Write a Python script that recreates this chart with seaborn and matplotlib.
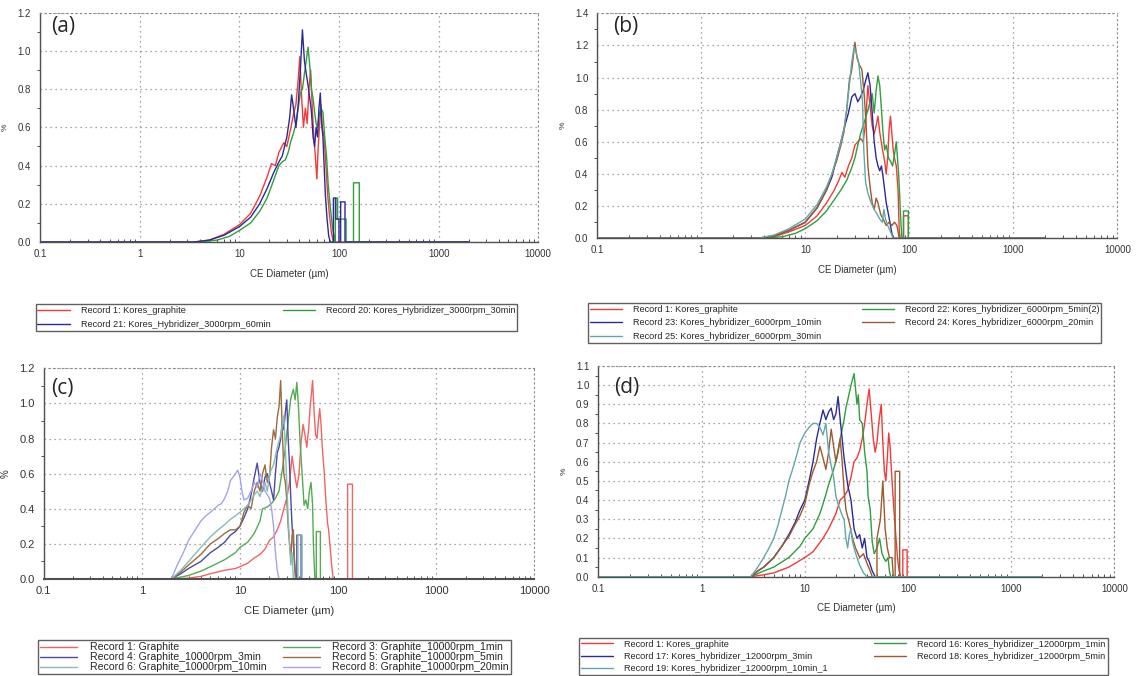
import matplotlib
matplotlib.use("Agg")
import matplotlib.pyplot as plt
from matplotlib.ticker import FixedLocator, MultipleLocator, LogLocator, NullFormatter, FormatStrFormatter
import seaborn as sns
import pandas as pd

# x range of the instrument baseline (zero line)
BASE_LO, BASE_HI = 0.1, 2000

# ---- panel (a) : 3000 rpm ----
a_graphite = [(3.5, 0), (5, 0.01), (7, 0.04), (10, 0.09), (13, 0.15), (16, 0.24), (19, 0.34), (21, 0.41),
              (23, 0.4), (25, 0.47), (28, 0.52), (30, 0.5), (33, 0.6), (35, 0.67), (37, 0.72), (39, 0.85),
              (40.5, 0.97), (42, 0.78), (44, 0.6), (46, 0.7), (48, 0.62), (50, 0.8), (52, 0.9), (54, 0.7),
              (56, 0.55), (58, 0.45), (60, 0.33), (62, 0.5), (64, 0.62), (66, 0.72), (68, 0.6), (71, 0.55),
              (74, 0.4), (77, 0.25), (80, 0.15), (84, 0.05), (88, 0)]
a_30min = [(4, 0), (6, 0.01), (8, 0.03), (10, 0.06), (13, 0.1), (16, 0.16), (19, 0.23), (22, 0.32), (25, 0.4),
           (27, 0.42), (29, 0.43), (31, 0.47), (33, 0.53), (35, 0.57), (37, 0.62), (39, 0.7), (41, 0.78),
           (43, 0.8), (45, 0.88), (47, 0.95), (49, 1.02), (51, 0.92), (53, 0.8), (55, 0.75), (57, 0.68),
           (59, 0.62), (61, 0.6), (63, 0.66), (66, 0.7), (69, 0.68), (72, 0.55), (75, 0.45), (78, 0.3),
           (82, 0.18), (86, 0.08), (90, 0.02), (92, 0), (92, 0.23), (97, 0.23), (97, 0.12), (118, 0.12),
           (118, 0), (140, 0), (140, 0.31), (160, 0.31), (160, 0)]
a_60min = [(3.5, 0), (5, 0.01), (7, 0.035), (10, 0.08), (13, 0.13), (16, 0.2), (19, 0.28), (22, 0.36),
           (25, 0.42), (27, 0.45), (30, 0.55), (32, 0.65), (33.5, 0.77), (35, 0.7), (37, 0.6), (39, 0.72),
           (41, 0.9), (43, 1.11), (45, 0.95), (47, 0.88), (49, 0.82), (51, 0.75), (53, 0.68), (55, 0.55),
           (57, 0.5), (59, 0.6), (61, 0.55), (63, 0.7), (65, 0.78), (67, 0.62), (69, 0.55), (71, 0.4),
           (73, 0.25), (76, 0.12), (79, 0.03), (82, 0), (88, 0), (88, 0.23), (93, 0.23), (93, 0.12),
           (100, 0.12), (100, 0), (104, 0), (104, 0.21), (115, 0.21), (115, 0)]

# ---- panel (b) : 6000 rpm ----
b_graphite = [(3.5, 0), (5, 0.01), (7, 0.04), (10, 0.08), (13, 0.14), (16, 0.22), (19, 0.3), (21, 0.36),
              (22.5, 0.41), (24, 0.38), (26, 0.45), (28, 0.5), (30, 0.58), (32, 0.6), (34, 0.62), (36, 0.6),
              (38, 0.72), (40, 0.95), (42, 0.82), (44, 0.7), (46, 0.65), (48, 0.7), (50, 0.76), (52, 0.66),
              (55, 0.56), (58, 0.48), (60, 0.4), (62, 0.5), (64, 0.68), (66, 0.76), (68, 0.65), (70, 0.55),
              (72, 0.5), (75, 0.45), (78, 0.3), (80, 0.05), (82, 0), (88, 0), (88, 0.14), (98, 0.14), (98, 0)]
b_5min = [(4, 0), (6, 0.01), (8, 0.03), (10, 0.06), (13, 0.11), (16, 0.17), (19, 0.24), (22, 0.3), (25, 0.36),
          (28, 0.44), (30, 0.5), (32, 0.58), (34, 0.65), (36, 0.7), (38, 0.75), (40, 0.8), (42, 0.85),
          (44, 0.9), (46, 0.78), (48, 0.92), (50, 1.01), (52, 0.95), (54, 0.8), (56, 0.65), (58, 0.55),
          (60, 0.58), (63, 0.5), (66, 0.48), (69, 0.45), (72, 0.52), (75, 0.6), (77, 0.5), (79, 0.4),
          (81, 0.25), (83, 0.1), (85, 0), (88, 0), (88, 0.17), (98, 0.17), (98, 0)]
b_10min = [(3.5, 0), (5, 0.015), (7, 0.05), (10, 0.1), (13, 0.19), (16, 0.3), (18, 0.38), (20, 0.5), (22, 0.6),
           (24, 0.7), (26, 0.78), (28, 0.88), (30, 0.9), (32, 0.85), (34, 0.88), (36, 0.92), (38, 0.98),
           (40, 1.03), (42, 0.95), (44, 0.78), (46, 0.6), (48, 0.5), (50, 0.45), (52, 0.42), (54, 0.45),
           (56, 0.38), (58, 0.3), (60, 0.22), (63, 0.15), (66, 0.08), (68, 0.03), (70, 0)]
b_20min = [(3.5, 0), (5, 0.015), (7, 0.05), (10, 0.1), (13, 0.19), (16, 0.3), (18, 0.4), (20, 0.48), (22, 0.58),
           (23.5, 0.66), (25, 0.8), (26.5, 0.98), (28, 1.05), (30, 1.22), (31.5, 1.12), (33, 1.08), (35, 1.05),
           (37, 0.88), (38.5, 0.7), (40, 0.45), (42, 0.32), (44, 0.22), (46, 0.18), (48, 0.25), (50, 0.22),
           (53, 0.15), (56, 0.12), (60, 0.08), (64, 0.1), (68, 0.08), (72, 0.1), (76, 0.08), (79, 0.02), (80, 0)]
b_30min = [(3.5, 0), (5, 0.02), (7, 0.06), (10, 0.12), (13, 0.21), (16, 0.32), (18, 0.4), (20, 0.5), (22, 0.6),
           (23.5, 0.68), (25, 0.8), (26.5, 0.95), (28, 1.1), (29.5, 1.19), (31, 1.15), (32.5, 1.1), (34, 0.98),
           (35.5, 0.85), (36.5, 0.55), (38, 0.35), (40, 0.28), (43, 0.22), (46, 0.18), (49, 0.15), (52, 0.12),
           (55, 0.1), (57, 0.18), (59, 0.12), (62, 0.08), (65, 0.05), (68, 0.02), (70, 0)]

# ---- panel (c) : 10000 rpm ----
c_graphite = [(2, 0), (3, 0.005), (4, 0.015), (5, 0.03), (7, 0.05), (9, 0.06), (10, 0.07), (12, 0.09),
              (14, 0.12), (16, 0.14), (18, 0.17), (20, 0.22), (22, 0.24), (24, 0.28), (26, 0.33), (28, 0.4),
              (30, 0.46), (32, 0.55), (34, 0.7), (36, 0.6), (38, 0.52), (40, 0.6), (42, 0.78), (44, 0.88),
              (46, 0.82), (48, 0.75), (50, 0.85), (52, 0.98), (55, 1.13), (57, 0.95), (59, 0.82), (61, 0.8),
              (63, 0.9), (65, 0.97), (67, 0.88), (69, 0.75), (72, 0.62), (75, 0.45), (78, 0.32), (80, 0.28),
              (83, 0.18), (86, 0.08), (89, 0), (125, 0), (125, 0.54), (140, 0.54), (140, 0)]
c_1min = [(2, 0), (3, 0.02), (4, 0.045), (5, 0.07), (7, 0.11), (9, 0.15), (10, 0.18), (12, 0.21), (14, 0.26),
          (16, 0.33), (17, 0.4), (19, 0.41), (21, 0.43), (23, 0.46), (25, 0.5), (27, 0.62), (29, 0.75),
          (31, 0.9), (33, 1.03), (35, 1.08), (36.5, 1.02), (38, 1.12), (39.5, 0.98), (41, 0.78), (43, 0.6),
          (45, 0.42), (47, 0.45), (49, 0.4), (51, 0.5), (53, 0.55), (55, 0.42), (56, 0.2), (57, 0.1), (58, 0),
          (60, 0), (60, 0.27), (66, 0.27), (66, 0)]
c_3min = [(2, 0), (2.5, 0.03), (3, 0.06), (4, 0.1), (5, 0.15), (6, 0.18), (7, 0.21), (8, 0.25), (9, 0.27),
          (10, 0.3), (11, 0.35), (12, 0.4), (13, 0.48), (14, 0.58), (15, 0.66), (16, 0.55), (17, 0.5),
          (18, 0.58), (19, 0.6), (20, 0.55), (21, 0.5), (22, 0.45), (23, 0.6), (24, 0.72), (25, 0.75),
          (26, 0.8), (27, 0.9), (28, 0.85), (29, 0.95), (30, 1.02), (31, 0.8), (32, 0.65), (33, 0.45),
          (34, 0.3), (35, 0.2), (36, 0.1), (37, 0), (38, 0), (38, 0.25), (42, 0.25), (42, 0)]
c_5min = [(2, 0), (2.5, 0.04), (3, 0.08), (4, 0.14), (5, 0.2), (6, 0.23), (7, 0.26), (8, 0.28), (9, 0.28),
          (10, 0.3), (11, 0.38), (12, 0.42), (13, 0.4), (14, 0.5), (15, 0.55), (16, 0.5), (17, 0.6),
          (18, 0.65), (19, 0.55), (20, 0.58), (21, 0.75), (22, 0.85), (23, 0.8), (24, 0.92), (25, 0.98),
          (26, 1.13), (27, 0.85), (28, 0.6), (29, 0.55), (30, 0.45), (31, 0.3), (32, 0.2), (33, 0.12),
          (34, 0.25), (35, 0.28), (36, 0.08), (37, 0)]
c_10min = [(2, 0), (2.5, 0.05), (3, 0.1), (4, 0.18), (5, 0.24), (6, 0.28), (7, 0.31), (8, 0.34), (9, 0.36),
           (10, 0.38), (11, 0.4), (12, 0.42), (13, 0.45), (14, 0.48), (15, 0.5), (16, 0.47), (17, 0.52),
           (18, 0.55), (19, 0.5), (20, 0.6), (22, 0.65), (24, 0.75), (26, 0.82), (28, 0.93), (29, 0.75),
           (30, 0.55), (31, 0.35), (32, 0.2), (33, 0.08), (34, 0.15), (35, 0), (39, 0), (39, 0.25), (43, 0.25),
           (43, 0)]
c_20min = [(2, 0), (2.3, 0.08), (2.6, 0.14), (3, 0.22), (3.5, 0.28), (4, 0.33), (4.5, 0.36), (5, 0.38),
           (5.5, 0.4), (6, 0.42), (6.5, 0.43), (7, 0.46), (7.5, 0.5), (8, 0.56), (8.5, 0.58), (9, 0.6),
           (9.5, 0.62), (10, 0.58), (10.5, 0.5), (11, 0.45), (12, 0.46), (13, 0.5), (14, 0.55), (15, 0.52),
           (16, 0.6), (17, 0.56), (18, 0.5), (19, 0.48), (20, 0.46), (21, 0.4), (22, 0.3), (23, 0.15),
           (24, 0.05), (25, 0)]

# ---- panel (d) : 12000 rpm ----
d_graphite = [(3, 0), (4, 0.01), (5, 0.02), (7, 0.05), (10, 0.1), (12, 0.13), (15, 0.2), (17, 0.25), (20, 0.33),
              (22, 0.4), (24, 0.42), (26, 0.45), (28, 0.52), (30, 0.6), (32, 0.62), (34, 0.66), (36, 0.72),
              (38, 0.8), (40, 0.9), (42, 0.98), (44, 0.85), (46, 0.72), (48, 0.65), (50, 0.7), (52, 0.8),
              (55, 0.9), (57, 0.7), (59, 0.55), (61, 0.5), (63, 0.62), (65, 0.75), (67, 0.68), (70, 0.5),
              (73, 0.35), (76, 0.22), (79, 0.1), (82, 0.03), (85, 0), (89, 0), (89, 0.14), (98, 0.14), (98, 0)]
d_1min = [(3, 0), (4, 0.03), (5, 0.05), (7, 0.1), (9, 0.16), (10, 0.2), (12, 0.25), (14, 0.33), (15, 0.38),
          (16, 0.43), (17, 0.48), (19, 0.56), (20, 0.6), (22, 0.72), (24, 0.82), (25, 0.88), (26, 0.92),
          (28, 1.0), (30, 1.06), (31, 0.98), (32, 0.9), (33, 0.95), (34, 0.82), (36, 0.8), (38, 0.65),
          (40, 0.55), (41, 0.42), (43, 0.35), (45, 0.18), (47, 0.12), (50, 0.15), (53, 0.2), (56, 0.12),
          (58, 0.1), (61, 0.08), (64, 0.1), (66, 0.03), (68, 0)]
d_3min = [(3, 0), (3.5, 0.03), (4, 0.05), (5, 0.1), (6, 0.16), (7, 0.22), (8, 0.28), (9, 0.35), (10, 0.4),
          (11, 0.5), (12, 0.6), (13, 0.72), (14, 0.8), (15, 0.87), (16, 0.82), (17, 0.86), (18, 0.88),
          (19, 0.82), (20, 0.85), (21, 0.94), (22, 0.82), (23, 0.72), (24, 0.62), (25, 0.55), (26, 0.48),
          (28, 0.4), (30, 0.25), (32, 0.2), (34, 0.22), (36, 0.15), (38, 0.2), (40, 0.1), (42, 0.08),
          (45, 0.03), (48, 0)]
d_5min = [(3, 0), (3.5, 0.03), (4, 0.05), (5, 0.1), (6, 0.16), (7, 0.21), (8, 0.27), (9, 0.32), (10, 0.38),
          (11, 0.48), (12, 0.55), (13, 0.6), (14, 0.68), (15, 0.62), (16, 0.56), (17, 0.65), (18, 0.77),
          (19, 0.68), (20, 0.6), (21, 0.65), (22, 0.72), (23, 0.6), (24, 0.45), (25, 0.35), (27, 0.28),
          (29, 0.2), (31, 0.15), (34, 0.1), (37, 0.12), (40, 0.07), (43, 0.03), (45, 0), (50, 0), (50, 0.2),
          (54, 0.3), (57, 0.5), (60, 0.25), (63, 0.15), (66, 0.1), (70, 0.1), (72, 0), (75, 0), (75, 0.55),
          (83, 0.55), (83, 0)]
d_10min = [(3, 0), (3.5, 0.05), (4, 0.1), (4.5, 0.15), (5, 0.2), (5.5, 0.27), (6, 0.35), (6.5, 0.42), (7, 0.5),
           (7.5, 0.55), (8, 0.6), (9, 0.7), (10, 0.75), (11, 0.78), (12, 0.8), (13, 0.8), (14, 0.78),
           (15, 0.74), (16, 0.8), (17, 0.65), (18, 0.58), (19, 0.52), (20, 0.42), (21, 0.38), (22, 0.35),
           (23, 0.32), (24, 0.3), (25, 0.2), (26, 0.15), (27, 0.22), (28, 0.25), (29, 0.18), (30, 0.15),
           (32, 0.1), (34, 0.06), (37, 0.02), (40, 0)]

RED, BLUE, GREEN, BROWN, TEAL, LAV = "#f23a3a", "#2b2b98", "#2f9e3c", "#9b5a2f", "#62a8a6", "#a4a4ea"
RED_L, BLUE_L, GREEN_L, BROWN_L, TEAL_L = "#f26464", "#4a4aa4", "#52ad52", "#9c6b3e", "#86bcb4"

# (label, data, colour) in drawing order; legend order given separately
panels = [
    dict(tag="(a)", tagpos=(0.022, 0.94), ymax=1.2, ystep=0.2, yminor=0.1, fs=7, lfs=6.6, lsp=0.55,
         rect=[0.0351, 0.642, 0.4366, 0.3392], leg=[0.0312, 0.5505, 0.422, 0.0],
         curves=[("Record 1: Kores_graphite", a_graphite, RED),
                 ("Record 20: Kores_Hybridizer_3000rpm_30min", a_30min, GREEN),
                 ("Record 21: Kores_Hybridizer_3000rpm_60min", a_60min, BLUE)],
         order=[0, 2, 1]),
    dict(tag="(b)", tagpos=(0.031, 0.94), ymax=1.4, ystep=0.2, yminor=0.1, fs=7, lfs=6.6, lsp=0.5,
         rect=[0.5235, 0.6475, 0.4557, 0.3328], leg=[0.5153, 0.5518, 0.4496, 0.0],
         curves=[("Record 1: Kores_graphite", b_graphite, RED),
                 ("Record 22: Kores_hybridizer_6000rpm_5min(2)", b_5min, GREEN),
                 ("Record 23: Kores_hybridizer_6000rpm_10min", b_10min, BLUE),
                 ("Record 24: Kores_hybridizer_6000rpm_20min", b_20min, BROWN),
                 ("Record 25: Kores_hybridizer_6000rpm_30min", b_30min, TEAL)],
         order=[0, 2, 4, 1, 3]),
    dict(tag="(c)", tagpos=(0.015, 0.905), ymax=1.2, ystep=0.2, yminor=0.1, fs=8, lfs=7.6, lsp=0.0,
         rect=[0.0382, 0.1435, 0.4302, 0.3117], leg=[0.0333, 0.0533, 0.4145, 0.0],
         curves=[("Record 1: Graphite", c_graphite, RED_L),
                 ("Record 3: Graphite_10000rpm_1min", c_1min, GREEN_L),
                 ("Record 4: Graphite_10000rpm_3min", c_3min, BLUE_L),
                 ("Record 5: Graphite_10000rpm_5min", c_5min, BROWN_L),
                 ("Record 6: Graphite_10000rpm_10min", c_10min, TEAL_L),
                 ("Record 8: Graphite_10000rpm_20min", c_20min, LAV)],
         order=[0, 2, 4, 1, 3, 5]),
    dict(tag="(d)", tagpos=(0.03, 0.90), ymax=1.1, ystep=0.1, yminor=0.05, fs=7, lfs=6.6, lsp=0.35,
         rect=[0.5245, 0.1469, 0.4522, 0.3117], leg=[0.5075, 0.0567, 0.4632, 0.0],
         curves=[("Record 1: Kores_graphite", d_graphite, RED),
                 ("Record 16: Kores_hybridizer_12000rpm_1min", d_1min, GREEN),
                 ("Record 17: Kores_hybridizer_12000rpm_3min", d_3min, BLUE),
                 ("Record 18: Kores_hybridizer_12000rpm_5min", d_5min, BROWN),
                 ("Record 19: Kores_hybridizer_12000rpm_10min_1", d_10min, TEAL)],
         order=[0, 2, 4, 1, 3]),
]

sns.set_style("white")
plt.rcParams["font.family"] = ["Liberation Sans", "DejaVu Sans"]

fig = plt.figure(figsize=(11.41, 6.76), dpi=100)

for p in panels:
    ax = fig.add_axes(p["rect"])
    handles = []
    for label, pts, col in p["curves"]:
        pts = [(BASE_LO, 0)] + pts + [(BASE_HI, 0)]
        df = pd.DataFrame(pts, columns=["d", "v"])
        sns.lineplot(data=df, x="d", y="v", ax=ax, color=col, lw=1.0, sort=False,
                     estimator=None, label=label, legend=False)
        handles.append(ax.lines[-1])

    ax.set_xscale("log")
    ax.set_xlim(0.1, 10000)
    ax.set_ylim(0, p["ymax"])
    ax.xaxis.set_major_locator(FixedLocator([0.1, 1, 10, 100, 1000, 10000]))
    ax.set_xticklabels(["0.1", "1", "10", "100", "1000", "10000"])
    ax.xaxis.set_minor_locator(LogLocator(base=10, subs=range(2, 10)))
    ax.xaxis.set_minor_formatter(NullFormatter())
    ax.yaxis.set_major_locator(MultipleLocator(p["ystep"]))
    ax.yaxis.set_minor_locator(MultipleLocator(p["yminor"]))
    ax.yaxis.set_major_formatter(FormatStrFormatter("%.1f"))

    ax.grid(True, which="major", ls=(0, (1, 3)), color="#8a8a8a", lw=0.9)
    for s in ("top", "right"):
        ax.spines[s].set_linestyle((0, (1, 3)))
        ax.spines[s].set_color("#8a8a8a")
    for s in ("left", "bottom"):
        ax.spines[s].set_color("#505050")
        ax.spines[s].set_linewidth(1.0)
    if p["tag"] == "(c)":
        # the stacked records make the zero line look dark grey here
        ax.spines["bottom"].set_zorder(5)
        ax.spines["bottom"].set_linewidth(1.5)

    fs = p["fs"]
    ax.tick_params(axis="both", which="major", labelsize=fs, colors="#333333", length=3)
    ax.tick_params(axis="y", which="minor", length=2, color="#333333", left=True)
    ax.tick_params(axis="x", which="minor", length=2, direction="in", color="#333333", bottom=True)
    ax.tick_params(axis="x", which="major", direction="in", length=3, pad=5)

    ax.set_xlabel("CE Diameter (µm)", fontsize=fs, color="#333333", labelpad=7)
    ax.set_ylabel("%", fontsize=fs - 1, color="#333333", labelpad=6)
    ax.text(p["tagpos"][0], p["tagpos"][1], p["tag"], transform=ax.transAxes,
            fontsize=15, va="center", ha="left", family=["Open Sans", "DejaVu Sans"])

    hs = [handles[i] for i in p["order"]]
    ls = [p["curves"][i][0] for i in p["order"]]
    fig.legend(hs, ls, loc="upper left", bbox_to_anchor=p["leg"], mode="expand", ncol=2,
               fontsize=p["lfs"], frameon=True, fancybox=False, edgecolor="#606060", framealpha=1,
               borderaxespad=0, handlelength=3.5, handletextpad=1.2, labelspacing=p["lsp"],
               borderpad=0.2, columnspacing=1.0, handleheight=0.6)

fig.savefig("out.png", dpi=100)
